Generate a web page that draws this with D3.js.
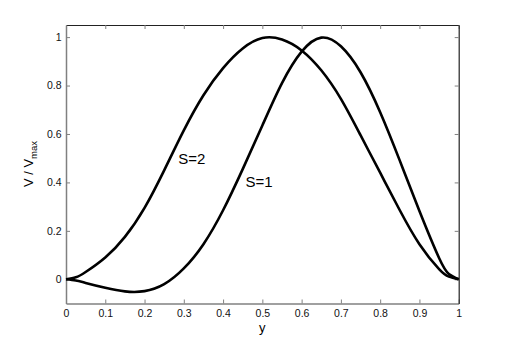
<!DOCTYPE html>
<html><head><meta charset="utf-8">
<script src="https://cdn.jsdelivr.net/npm/d3@7/dist/d3.min.js"></script>
<style>
body{margin:0;background:#fff;}
svg{display:block;font-family:"Liberation Sans",Arial,Helvetica,sans-serif;}
</style></head>
<body>
<svg id="chart" width="506" height="342"></svg>
<script>
const yPos = [0,0.025,0.05,0.1,0.15,0.2,0.25,0.3,0.35,0.4,0.45,0.5,0.55,0.6,0.65,0.7,0.75,0.8,0.85,0.9,0.95,0.975,1.0];
const s1 = [0,-0.005,-0.015,-0.035,-0.05,-0.049,-0.02,0.045,0.145,0.285,0.455,0.635,0.81,0.94,0.998,0.962,0.855,0.69,0.49,0.282,0.088,0.022,0];
const s2 = [0,0.008,0.03,0.09,0.175,0.295,0.45,0.615,0.76,0.872,0.953,0.996,0.99,0.945,0.863,0.745,0.595,0.44,0.285,0.145,0.042,0.011,0];
const xTicks = [0,0.1,0.2,0.3,0.4,0.5,0.6,0.7,0.8,0.9,1];
const yTicks = [0,0.2,0.4,0.6,0.8,1];
const labels = [{text:"S=2", x:0.286, y:0.475},{text:"S=1", x:0.457, y:0.38}];

const svg = d3.select("#chart");
const L=66, R=458.7, T=25, B=303.5;
const x = d3.scaleLinear().domain([0,1]).range([L,R]);
const y = d3.scaleLinear().domain([-0.1,1.05]).range([B,T]);

const fmt = d => d===0 ? "0" : (d===1 ? "1" : d3.format(".1f")(d));

const gx = svg.append("g").attr("transform",`translate(0,${B})`)
  .call(d3.axisBottom(x).tickValues(xTicks).tickFormat(fmt).tickSizeInner(-4).tickSizeOuter(0).tickPadding(6.5));
const gxt = svg.append("g").attr("transform",`translate(0,${T})`)
  .call(d3.axisTop(x).tickValues(xTicks).tickFormat("").tickSizeInner(-4).tickSizeOuter(0));
const gy = svg.append("g").attr("transform",`translate(${L},0)`)
  .call(d3.axisLeft(y).tickValues(yTicks).tickFormat(fmt).tickSizeInner(-4).tickSizeOuter(0).tickPadding(4.5));
const gyr = svg.append("g").attr("transform",`translate(${R},0)`)
  .call(d3.axisRight(y).tickValues(yTicks).tickFormat("").tickSizeInner(-4).tickSizeOuter(0));

[gx,gy].forEach(g=>{
  g.select(".domain").attr("stroke","#808080").attr("stroke-width",1.5);
  g.selectAll(".tick line").attr("stroke","#808080");
  g.selectAll(".tick text").attr("fill","#111").style("font-size","10.5px");
});
[gxt,gyr].forEach(g=>{
  g.select(".domain").attr("stroke","#222").attr("stroke-width",1.2);
  g.selectAll(".tick line").attr("stroke","#808080");
});

const line = d3.line().x((d,i)=>x(yPos[i])).y(d=>y(d)).curve(d3.curveNatural);
[s1,s2].forEach(s=>{
  svg.append("path").datum(s).attr("d",line).attr("fill","none")
    .attr("stroke","#000").attr("stroke-width",2.6).attr("stroke-linejoin","round");
});

labels.forEach(l=>{
  svg.append("text").attr("x",x(l.x)).attr("y",y(l.y)).text(l.text)
    .style("font-size","15px").attr("fill","#000");
});

svg.append("text").attr("x",x(0.5)).attr("y",332).attr("text-anchor","middle")
  .style("font-size","13px").text("y");
const yl = svg.append("text").attr("transform","translate(33,164) rotate(-90)").attr("text-anchor","middle")
  .style("font-size","13px");
yl.append("tspan").text("V / V");
yl.append("tspan").attr("dy",4).style("font-size","9.5px").text("max");
</script>
</body></html>
